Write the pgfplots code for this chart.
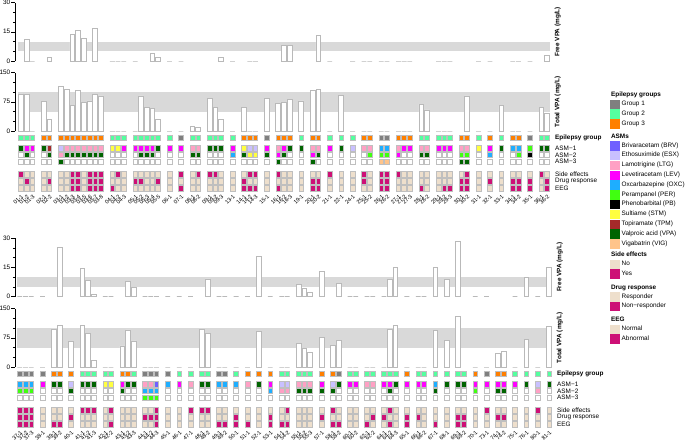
\documentclass[border=0pt]{standalone}
\usepackage{fontspec}
\setmainfont{Liberation Sans}
\usepackage{pgfplots}
\usepackage{pgfplotstable}
\pgfplotsset{compat=1.18}
\newcommand\sz{\fontsize{6.4}{7.2}\selectfont}
\definecolor{cG1}{HTML}{7F7F7F}
\definecolor{cG2}{HTML}{54FF9F}
\definecolor{cG3}{HTML}{FF7F00}
\definecolor{cBRV}{HTML}{7060FF}
\definecolor{cESX}{HTML}{C9C0FF}
\definecolor{cLTG}{HTML}{FFA0C4}
\definecolor{cLEV}{HTML}{FF00FF}
\definecolor{cOXC}{HTML}{1EAEFF}
\definecolor{cPER}{HTML}{40FF10}
\definecolor{cPB}{HTML}{000000}
\definecolor{cSTM}{HTML}{FFFF40}
\definecolor{cTPM}{HTML}{A52A2A}
\definecolor{cVPA}{HTML}{006400}
\definecolor{cVIG}{HTML}{FFC48A}
\definecolor{cNo}{HTML}{EEDFCC}
\definecolor{cYes}{HTML}{CD1076}
\definecolor{cBand}{HTML}{D9D9D9}

\pgfplotstableread{
x g a1 a2 a3 se dr eeg fr tot lab
0 G2 VPA W W Y N N nan 95 01-1
1 G2 LEV VPA W N Y N 11 95 01-2
2 G2 LEV W W N N N 0 0 01-3
4 G3 VPA W W N N N nan 76 02-1
5 G3 TPM VPA W N Y N 2 31 02-2
7 G3 ESX LTG VPA N N N nan 115 03-1
8 G3 LTG VPA W N N N nan 106 03-2
9 G3 LTG VPA W Y Y Y 13.4 65 03-3
10 G3 LTG VPA W Y Y Y 15.7 103 03-4
11 G3 LTG VPA W N N N 11.6 74 03-5
12 G3 LTG VPA W Y Y Y nan 77 03-6
13 G3 LTG VPA W Y Y Y 16.6 94 03-7
14 G3 LTG VPA W Y Y Y nan 90 03-8
16 G2 STM W W N N Y 0 0 04-1
17 G2 STM W W Y N N 0 0 04-2
18 G2 LEV W W N N N 0 0 04-3
20 G2 LEV W W N Y N 0 0 05-1
21 G2 LEV VPA W N Y N nan 90 05-2
22 G2 LEV VPA W N N N nan 60 05-3
23 G2 LEV VPA W N N N 4 57 05-4
24 G2 VPA W W N Y N 1.7 30 05-5
26 G2 LEV W W N N N 0 0 06-1
28 G1 LEV W W Y N Y 0 0 07-1
30 G2 LTG VPA W N N N nan 11 08-1
31 G2 LTG VPA W Y N N nan 10 08-2
33 G2 VPA W W Y N N nan 83 09-1
34 G2 VPA W W Y N N nan 60 09-2
35 G2 VPA W W N N N 2 30 09-3
37 G2 LEV OXC W N N N 0 0 13-1
39 G3 STM VPA W N Y Y nan 61 14-1
40 G3 ESX STM W Y N Y 0 0 14-2
41 G3 ESX STM W Y N Y 0 0 14-3
43 G1 LEV VPA W N N N nan 84.5 15-1
45 G3 LTG LEV VPA Y N Y nan 70 16-1
46 G3 LEV VPA W N N N 7.9 73 16-2
47 G3 VPA W W N N N 7.9 82 16-3
49 G2 VPA W W N N N nan 77 19-1
51 G3 LTG LEV VPA N Y Y nan 105 20-1
52 G3 LTG VPA W N Y Y 13 108 20-2
54 G2 LEV W W Y N N 0 0 21-1
56 G2 VPA W W N N N nan 91 22-1
58 G2 ESX W W N N N 0 0 24-1
60 G3 LTG W W Y Y N 0 0 25-1
61 G3 LTG PER W N N N 0 0 25-2
63 G1 OXC PER VIG Y Y Y 0 0 26-1
64 G1 OXC PER VIG Y Y Y 0 0 26-2
66 G3 LTG LEV W Y N N 0 0 27-1
67 G3 LEV W W N N N 0 0 27-2
68 G3 LEV W W N N N 0 0 27-3
70 G2 LTG VPA W N N Y nan 69 28-1
71 G2 LTG VPA W N N N nan 54 28-2
73 G2 LEV W W N N N 0 0 29-1
74 G2 LEV W W N N Y 0 0 29-2
75 G2 LEV W W N N Y 0 0 29-3
77 G3 LTG PER VPA N Y Y nan nan 30-1
78 G3 LTG PER VPA Y Y Y nan 90 30-2
80 G2 STM W W N N N 0 0 31-1
82 G3 LEV OXC W N Y N 0 0 32-1
84 G2 VPA W W N N N nan 65 33-1
86 G3 OXC W W N Y Y 0 0 34-1
87 G3 OXC PER W N Y Y 0 0 34-2
89 G1 PER PB W N Y Y 0 0 35-1
91 G2 VPA W W Y N N nan 60 36-1
92 G2 VPA W W N Y Y 3 44 36-2
}\toptab

\pgfplotstableread{
x g a1 a2 a3 se dr eeg fr tot lab
0 G1 OXC PER W Y Y Y 0 0 37-1
1 G1 OXC PER W Y Y Y 0 0 37-2
2 G1 OXC PER W Y Y Y 0 0 37-3
4 G1 LEV W W N N N 0 0 38-1
6 G3 VPA W W N N Y nan 97.5 39-1
7 G3 VPA W W N N Y 25 107 39-2
9 G3 ESX VPA W N Y N nan 66 40-1
11 G2 VPA W W Y N N 14.4 107.6 41-1
12 G2 VPA W W Y N N 8.3 86.4 41-2
13 G2 VPA W W Y N N 1 17.8 41-3
15 G2 STM W W N N N 0 0 42-1
16 G2 STM W W Y N Y 0 0 42-2
18 G3 LEV VPA W N N N nan 54 43-1
19 G3 VPA W W N N N 7.6 95 43-2
20 G2 VPA W W N N N 4.7 67 43-3
22 G1 LTG OXC PER N Y N 0 0 44-1
23 G1 LTG OXC PER N Y N 0 0 44-2
24 G1 BRV OXC PER Y Y Y 0 0 44-3
26 G1 OXC W W N N N 0 0 45-1
28 G2 LEV W W N N N 0 0 46-1
30 G2 LTG W W Y N N 0 0 47-1
32 G2 VPA W W Y N N nan 96.6 48-1
33 G2 VPA W W Y N N 9 85.6 48-2
35 G1 OXC W W N N Y 0 0 49-1
36 G1 OXC W W N N Y 0 0 49-2
38 G2 OXC W W N Y Y 0 0 50-1
40 G3 LTG W W N N Y 0 0 51-1
42 G3 VPA W W N N N 20.8 90.7 52-1
44 G3 LEV OXC W N Y Y 0 0 53-1
46 G2 ESX LTG W N N Y 0 0 54-1
47 G2 ESX LTG W Y N Y 0 0 54-2
49 G2 LTG VPA W N N N 6.3 60 55-1
50 G2 LTG VPA W N N N 4.4 47.5 55-2
51 G2 LTG VPA W N N N 2.2 38 55-3
53 G3 LEV VPA W N Y N 12.7 75.4 57-1
55 G3 ESX VPA W Y N Y nan 55 58-1
56 G1 VPA W W N N Y 6.6 68.6 58-2
58 G2 LEV W W N N N 0 0 60-1
59 G2 LEV W W N N N 0 0 60-2
61 G2 LTG W W N N Y 0 0 62-1
62 G2 LTG W W N Y N 0 0 62-2
64 G2 LEV W W N Y N 0 0 64-1
65 G2 LEV VPA W Y N Y 8.8 97 64-2
66 G2 VPA W W N N N 14.9 107 64-3
68 G3 LEV W W N Y Y 0 0 65-1
70 G2 LEV W W N Y N 0 0 66-1
71 G2 LEV W W N N N 0 0 66-2
73 G2 OXC VPA W N N Y 14.9 93 67-1
75 G2 VPA W W N N N 8.6 68.6 68-1
77 G2 VPA W W N Y Y 28.3 130.5 69-1
78 G2 VPA W W N Y Y nan nan 69-2
80 G3 LEV PER W N N N 0 0 70-1
82 G1 LEV W W Y N N 0 0 73-1
84 G3 LEV VPA W N Y N nan 35.6 74-1
85 G3 LEV VPA W N Y N nan 40.7 74-2
87 G2 LEV W W N N N 0 0 75-1
89 G2 VPA W W N N N 10 70 76-1
91 G2 ESX LTG W Y N N 0 0 80-1
93 G2 VPA W W N N N 14.7 103 81-1
}\bottab

\pgfplotsset{
  barax/.style={scale only axis, height=58.5pt, axis y line*=left, axis x line=none,
    clip=false, tick align=outside, major tick length=3.5pt, minor tick length=2pt,
    tick style={black, line width=0.5pt}, axis line style={black, line width=0.5pt},
    yticklabel style={font=\sz, inner sep=1pt},
    /pgf/number format/assume math mode=true,
    every axis y label/.style={at={(rel axis cs:1,0.5)}, rotate=90, anchor=north,
      inner sep=4.5pt, font=\sz\bfseries}},
  vbar/.style={ybar, bar width=0.84, fill=white, draw=gray!55, line width=0.75pt},
  tiles/.style={scatter, only marks, scatter src=explicit symbolic, mark=square*,
    mark size=2.35pt, mark options={yscale=1.15, draw=gray!50, line width=0.6pt},
    scatter/classes={
      G1={draw=gray!50,fill=cG1}, G2={draw=gray!50,fill=cG2}, G3={draw=gray!50,fill=cG3},
      BRV={draw=gray!50,fill=cBRV}, ESX={draw=gray!50,fill=cESX}, LTG={draw=gray!50,fill=cLTG},
      LEV={draw=gray!50,fill=cLEV}, OXC={draw=gray!50,fill=cOXC}, PER={draw=gray!50,fill=cPER},
      PB={draw=gray!50,fill=cPB}, STM={draw=gray!50,fill=cSTM}, TPM={draw=gray!50,fill=cTPM},
      VPA={draw=gray!50,fill=cVPA}, VIG={draw=gray!50,fill=cVIG}, W={draw=gray!50,fill=white},
      N={draw=gray!50,fill=cNo}, Y={draw=gray!50,fill=cYes}}},
  tileax/.style={scale only axis, height=60pt, ymin=-60, ymax=0, clip=false,
    axis line style={draw=none}, tick style={draw=none}, major tick length=0pt,
    xtick=data, xticklabel style={rotate=45, anchor=north east, font=\fontsize{5.6}{6}\selectfont, inner sep=0.6pt},
    ytick={-4.5,-15.4,-22,-28.7,-41.2,-48.2,-55.2},
    yticklabels={\textbf{Epilepsy group},ASM−1,ASM−2,ASM−3,Side effects,Drug response,EEG},
    yticklabel pos=right, yticklabel style={anchor=west, font=\sz, inner sep=0pt, xshift=5pt}},
  sq/.style={legend image code/.code={\fill[#1] (0pt,-4.2pt) rectangle (8.4pt,4.2pt);}},
  legax/.style={hide axis, scale only axis, width=1pt, height=1pt, anchor=north west,
    xmin=0, xmax=1, ymin=0, ymax=1,
    legend style={at={(0,1)}, anchor=north west, draw=none, fill=none, inner sep=0pt,
      row sep=1pt, column sep=2.2pt, font=\sz, nodes={inner sep=0.5pt}},
    legend cell align=left}
}

\begin{document}
\begin{tikzpicture}[font=\sz]
\useasboundingbox (0,0) rectangle (685pt,-445pt);

% ---------------- TOP PANEL ----------------
\begin{axis}[barax, width=535pt, at={(15pt,-61pt)}, anchor=south west,
  xmin=-1.02, xmax=92.5, ymin=0, ymax=30, ytick={0,15,30}, minor ytick={5,10,20,25},
  ylabel={Free VPA (mg/L)}]
\addplot[fill=cBand, draw=none] coordinates {(-0.5,5) (92.5,5) (92.5,10) (-0.5,10)} --cycle;
\addplot[vbar] table[x=x, y=fr]{\toptab};
\end{axis}

\begin{axis}[barax, width=535pt, at={(15pt,-131pt)}, anchor=south west,
  xmin=-1.02, xmax=92.5, ymin=0, ymax=150, ytick={0,75,150}, minor ytick={25,50,100,125},
  ylabel={Total VPA (mg/L)}]
\addplot[fill=cBand, draw=none] coordinates {(-0.5,50) (92.5,50) (92.5,100) (-0.5,100)} --cycle;
\addplot[vbar] table[x=x, y=tot]{\toptab};
\end{axis}

\begin{axis}[tileax, width=535pt, at={(15pt,-133pt)}, anchor=north west,
  xmin=-1.02, xmax=92.5, xticklabels from table={\toptab}{lab}]
\addplot[tiles] table[x=x, y expr=-4.5, meta=g]{\toptab};
\addplot[tiles] table[x=x, y expr=-15.4, meta=a1]{\toptab};
\addplot[tiles] table[x=x, y expr=-22, meta=a2]{\toptab};
\addplot[tiles] table[x=x, y expr=-28.7, meta=a3]{\toptab};
\addplot[tiles] table[x=x, y expr=-41.2, meta=se]{\toptab};
\addplot[tiles] table[x=x, y expr=-48.2, meta=dr]{\toptab};
\addplot[tiles] table[x=x, y expr=-55.2, meta=eeg]{\toptab};
\end{axis}

% ---------------- BOTTOM PANEL ----------------
\begin{axis}[barax, width=537pt, at={(15pt,-296.5pt)}, anchor=south west,
  xmin=-0.85, xmax=93.5, ymin=0, ymax=30, ytick={0,15,30}, minor ytick={5,10,20,25},
  ylabel={Free VPA (mg/L)}]
\addplot[fill=cBand, draw=none] coordinates {(-0.5,5) (93.5,5) (93.5,10) (-0.5,10)} --cycle;
\addplot[vbar] table[x=x, y=fr]{\bottab};
\end{axis}

\begin{axis}[barax, width=537pt, at={(15pt,-367pt)}, anchor=south west,
  xmin=-0.85, xmax=93.5, ymin=0, ymax=150, ytick={0,75,150}, minor ytick={25,50,100,125},
  ylabel={Total VPA (mg/L)}]
\addplot[fill=cBand, draw=none] coordinates {(-0.5,50) (93.5,50) (93.5,100) (-0.5,100)} --cycle;
\addplot[vbar] table[x=x, y=tot]{\bottab};
\end{axis}

\begin{axis}[tileax, width=537pt, at={(15pt,-369pt)}, anchor=north west,
  xmin=-0.85, xmax=93.5, xticklabels from table={\bottab}{lab}]
\addplot[tiles] table[x=x, y expr=-4.5, meta=g]{\bottab};
\addplot[tiles] table[x=x, y expr=-15.4, meta=a1]{\bottab};
\addplot[tiles] table[x=x, y expr=-22, meta=a2]{\bottab};
\addplot[tiles] table[x=x, y expr=-28.7, meta=a3]{\bottab};
\addplot[tiles] table[x=x, y expr=-41.2, meta=se]{\bottab};
\addplot[tiles] table[x=x, y expr=-48.2, meta=dr]{\bottab};
\addplot[tiles] table[x=x, y expr=-55.2, meta=eeg]{\bottab};
\end{axis}

% ---------------- LEGENDS ----------------
\begin{axis}[legax, at={(610pt,-91.2pt)}]
\addlegendimage{empty legend}\addlegendentry{\hspace*{-10.6pt}\textbf{Epilepsy groups}}
\addlegendimage{sq=cG1}\addlegendentry{Group 1}
\addlegendimage{sq=cG2}\addlegendentry{Group 2}
\addlegendimage{sq=cG3}\addlegendentry{Group 3}
\end{axis}

\begin{axis}[legax, at={(610pt,-133pt)}]
\addlegendimage{empty legend}\addlegendentry{\hspace*{-10.6pt}\textbf{ASMs}}
\addlegendimage{sq=cBRV}\addlegendentry{Brivaracetam (BRV)}
\addlegendimage{sq=cESX}\addlegendentry{Ethosuximide (ESX)}
\addlegendimage{sq=cLTG}\addlegendentry{Lamotrigine (LTG)}
\addlegendimage{sq=cLEV}\addlegendentry{Levetiracetam (LEV)}
\addlegendimage{sq=cOXC}\addlegendentry{Oxcarbazepine (OXC)}
\addlegendimage{sq=cPER}\addlegendentry{Perampanel (PER)}
\addlegendimage{sq=cPB}\addlegendentry{Phenobarbital (PB)}
\addlegendimage{sq=cSTM}\addlegendentry{Sultiame (STM)}
\addlegendimage{sq=cTPM}\addlegendentry{Topiramate (TPM)}
\addlegendimage{sq=cVPA}\addlegendentry{Valproic acid (VPA)}
\addlegendimage{sq=cVIG}\addlegendentry{Vigabatrin (VIG)}
\end{axis}

\begin{axis}[legax, at={(610pt,-251.2pt)}]
\addlegendimage{empty legend}\addlegendentry{\hspace*{-10.6pt}\textbf{Side effects}}
\addlegendimage{sq=cNo}\addlegendentry{No}
\addlegendimage{sq=cYes}\addlegendentry{Yes}
\end{axis}

\begin{axis}[legax, at={(610pt,-284pt)}]
\addlegendimage{empty legend}\addlegendentry{\hspace*{-10.6pt}\textbf{Drug response}}
\addlegendimage{sq=cNo}\addlegendentry{Responder}
\addlegendimage{sq=cYes}\addlegendentry{Non−responder}
\end{axis}

\begin{axis}[legax, at={(610pt,-316.5pt)}]
\addlegendimage{empty legend}\addlegendentry{\hspace*{-10.6pt}\textbf{EEG}}
\addlegendimage{sq=cNo}\addlegendentry{Normal}
\addlegendimage{sq=cYes}\addlegendentry{Abnormal}
\end{axis}

\end{tikzpicture}
\end{document}
